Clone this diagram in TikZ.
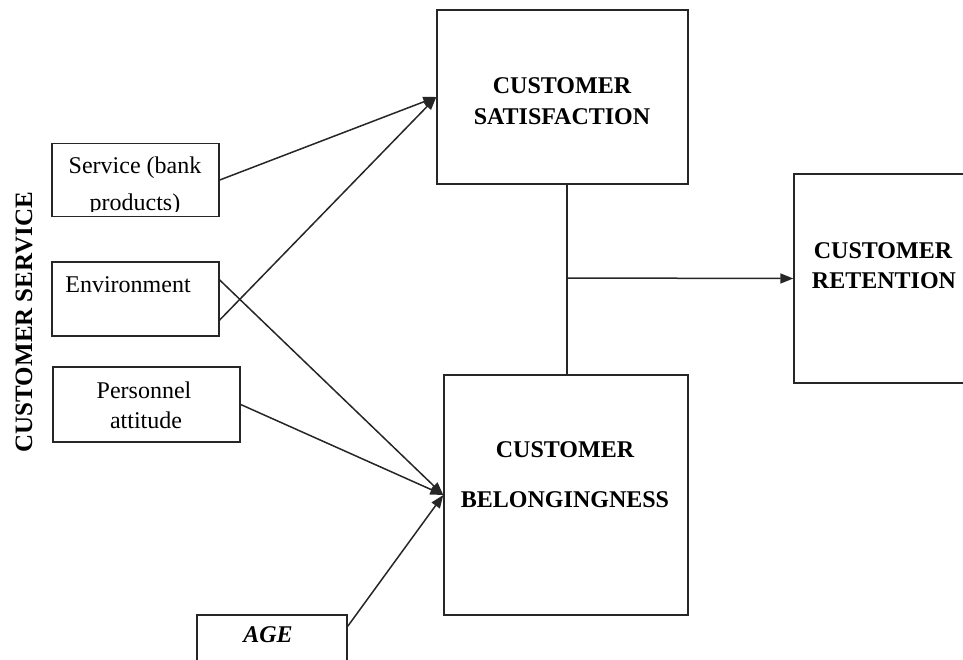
\documentclass[tikz,border=0pt]{standalone}
\usepackage{fontspec}
\setmainfont{Liberation Serif}
\usetikzlibrary{arrows.meta,calc}
\begin{document}
\begin{tikzpicture}[x=1pt,y=-1pt,
  box/.style={draw=black!85, line width=1.4pt, inner sep=0pt, fill=none},
  txt/.style={font=\fontsize{24}{29}\selectfont, anchor=base, inner sep=0pt},
  btxt/.style={font=\fontsize{24}{29}\selectfont\bfseries, anchor=base, inner sep=0pt},
  conn/.style={line width=1.5pt, draw=black!85},
  arr/.style={conn, -{Triangle[length=13pt,width=10pt]}}]
\useasboundingbox (0,0) rectangle (963,659);
\clip (0,0) rectangle (963,659);
% boxes
\node[box, minimum width=220pt, minimum height=209pt] (ret) at (904,278.5) {};
\node[box, minimum width=251pt, minimum height=174pt] (sat) at (562.5,97) {};
\node[box, minimum width=244pt, minimum height=240pt] (bel) at (566,495) {};
\node[box, minimum width=167pt, minimum height=73pt] (svc) at (135.5,180) {};
\node[box, minimum width=167pt, minimum height=74pt] (env) at (135.5,299) {};
\node[box, minimum width=187pt, minimum height=75pt] (per) at (146.5,404.5) {};
\node[box, minimum width=150pt, minimum height=65pt] (age) at (272,647.5) {};
% texts
\node[btxt] (sat1) at (562,93) {CUSTOMER};
\node[btxt] (sat2) at (562,124) {SATISFACTION};
\node[btxt] (bel1) at (565,457) {CUSTOMER};
\node[btxt] (bel2) at (565,507) {BELONGINGNESS};
\node[btxt] (ret1) at (883,258) {CUSTOMER};
\node[btxt] (ret2) at (884,288) {RETENTION};
\begin{scope}
  \clip (52,143) rectangle (219,211);
  \node[txt] (svc1) at (135,173) {Service (bank};
  \node[txt] (svc2) at (135,210) {products)};
\end{scope}
\node[txt] (env1) at (128,292) {Environment};
\node[txt] (per1) at (144,398) {Personnel};
\node[txt] (per2) at (146,428) {attitude};
\node[btxt, font=\fontsize{24}{29}\selectfont\bfseries\itshape] (age1) at (268,642) {AGE};
\node[btxt, rotate=90, font=\fontsize{25}{30}\selectfont\bfseries] (cs) at (32,322) {CUSTOMER SERVICE};
% connectors
\draw[arr] (svc.east) -- (sat.west);
\draw[arr] ($(env.east)+(0,21)$) -- (sat.west);
\draw[arr] ($(env.east)+(0,-19)$) -- (bel.west);
\draw[arr] (per.east) -- (bel.west);
\draw[arr] ($(age.north east)+(0,12)$) -- (bel.west);
\coordinate (j) at (567,278);
\draw[conn] (sat.south -| j) -- (bel.north -| j);
\draw[arr] (j) -- (ret.west);
\end{tikzpicture}
\end{document}
